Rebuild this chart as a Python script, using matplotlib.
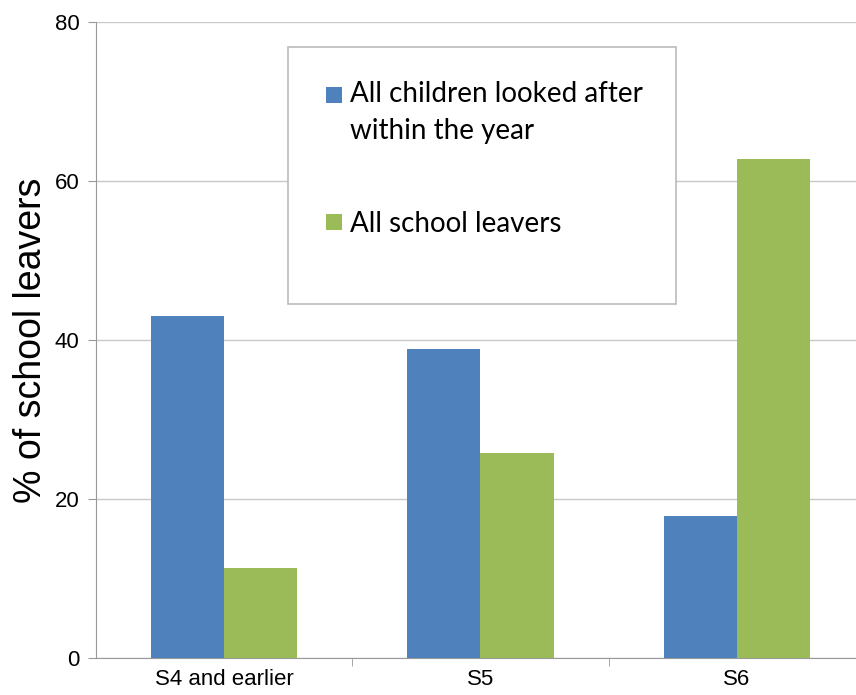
import matplotlib

matplotlib.use("Agg")
import matplotlib.pyplot as plt
import numpy as np
from matplotlib.patches import Rectangle

categories = ["S4 and earlier", "S5", "S6"]
looked_after = [43.0, 38.9, 17.8]
all_leavers = [11.3, 25.8, 62.8]
series_labels = ["All children looked after\nwithin the year", "All school leavers"]
yticks = [0, 20, 40, 60, 80]

BLUE = "#4F81BD"
GREEN = "#9BBB59"

plt.rcParams["font.family"] = ["Liberation Sans", "DejaVu Sans"]

fig = plt.figure(figsize=(8.56, 6.95), dpi=100)
# plot area runs a little past the right edge of the image, as in the original
ax = fig.add_axes([96 / 856, 37 / 695, 769 / 856, 636 / 695])

x = np.arange(len(categories))
width = 0.285
ax.bar(x - width / 2, looked_after, width, color=BLUE, zorder=3)
ax.bar(x + width / 2, all_leavers, width, color=GREEN, zorder=3)

ax.set_xlim(-0.5, 2.5)
ax.set_ylim(0, 80)
ax.set_yticks(yticks)
ax.yaxis.grid(True, color="#C8C8C8", linewidth=1.0, zorder=0)
ax.set_axisbelow(True)

ax.set_xticks(x)
ax.set_xticklabels(categories, fontsize=16)
ax.set_xticks([0.5, 1.5], minor=True)
ax.tick_params(axis="x", which="major", length=0, pad=8)
ax.tick_params(axis="x", which="minor", length=6, color="#999999")
ax.tick_params(axis="y", labelsize=16, length=6, color="#999999", pad=6)

for side in ["top", "right"]:
    ax.spines[side].set_visible(False)
for side in ["left", "bottom"]:
    ax.spines[side].set_color("#999999")

ax.set_ylabel("% of school leavers", fontsize=27, labelpad=4)

# legend box, drawn by hand so the marker sits on the first text line
fig.patches.append(Rectangle((288 / 856, 1 - 304 / 695), 388 / 856, 257 / 695,
                             transform=fig.transFigure, facecolor="white",
                             edgecolor="#BBBBBB", linewidth=1.2, zorder=5))
legend_rows = [(BLUE, series_labels[0], 95, 100), (GREEN, series_labels[1], 222, 230)]
for color, label, ypix, ytext in legend_rows:
    fig.patches.append(Rectangle((326 / 856, 1 - (ypix + 8) / 695), 16 / 856, 16 / 695,
                                 transform=fig.transFigure, facecolor=color,
                                 edgecolor="none", zorder=6))
    fig.text(350 / 856, 1 - (ytext - 19) / 695, label, fontsize=20, va="top",
             ha="left", linespacing=1.5, family=["Lato", "DejaVu Sans"], zorder=7)

fig.savefig("out.png", dpi=100)
